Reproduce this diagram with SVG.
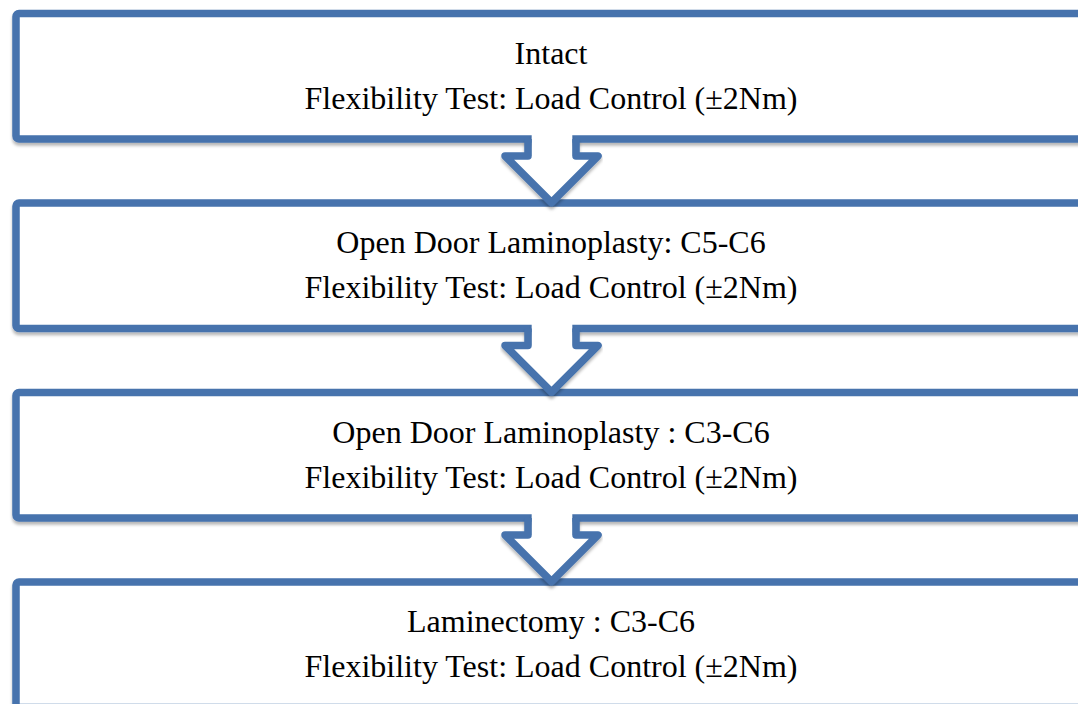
<svg xmlns="http://www.w3.org/2000/svg" width="1078" height="704" viewBox="0 0 1078 704">
<defs>
<filter id="sh" x="-5%" y="-10%" width="110%" height="130%">
<feDropShadow dx="0" dy="3" stdDeviation="1.8" flood-color="#000" flood-opacity="0.28"/>
</filter>
</defs>
<style>
.box{fill:#ffffff;stroke:#4673AD;stroke-width:7.5;stroke-linejoin:round}
.af{fill:#ffffff;stroke:none}
.as{fill:none;stroke:#4673AD;stroke-width:7.5;stroke-linejoin:round;stroke-linecap:butt}
.t{font-family:"Liberation Serif","Times New Roman",serif;font-size:32px;fill:#000;text-anchor:middle}
</style>
<rect width="1078" height="704" fill="#ffffff"/>
<g id="node1">
<rect class="box" x="16" y="13.5" width="1100" height="125.5" rx="3" filter="url(#sh)"/>
<text class="t" x="551" y="63.5">Intact</text>
<text class="t" x="551" y="108.5">Flexibility Test: Load Control (±2Nm)</text>
</g>
<g id="node2">
<rect class="box" x="16" y="203" width="1100" height="125.5" rx="3" filter="url(#sh)"/>
<text class="t" x="551" y="253">Open Door Laminoplasty: C5-C6</text>
<text class="t" x="551" y="298">Flexibility Test: Load Control (±2Nm)</text>
</g>
<g id="node3">
<rect class="box" x="16" y="392.5" width="1100" height="125.5" rx="3" filter="url(#sh)"/>
<text class="t" x="551" y="442.5">Open Door Laminoplasty : C3-C6</text>
<text class="t" x="551" y="487.5">Flexibility Test: Load Control (±2Nm)</text>
</g>
<g id="node4">
<rect class="box" x="16" y="582" width="1100" height="125.5" rx="3" filter="url(#sh)"/>
<text class="t" x="551" y="632">Laminectomy : C3-C6</text>
<text class="t" x="551" y="677">Flexibility Test: Load Control (±2Nm)</text>
</g>
<g id="connectors">
<g filter="url(#sh)">
<path class="af" d="M531.7,134 L572.3,134 L572.3,156 L598,156 L551.5,202.5 L505,156 L531.7,156 Z"/>
<path class="as" d="M528,139 L528,156 L505,156 L551.5,202.5 L598,156 L576,156 L576,139"/>
</g>
<g filter="url(#sh)">
<path class="af" d="M531.7,323.5 L572.3,323.5 L572.3,345.5 L598,345.5 L551.5,392 L505,345.5 L531.7,345.5 Z"/>
<path class="as" d="M528,328.5 L528,345.5 L505,345.5 L551.5,392 L598,345.5 L576,345.5 L576,328.5"/>
</g>
<g filter="url(#sh)">
<path class="af" d="M531.7,513 L572.3,513 L572.3,535 L598,535 L551.5,581.5 L505,535 L531.7,535 Z"/>
<path class="as" d="M528,518 L528,535 L505,535 L551.5,581.5 L598,535 L576,535 L576,518"/>
</g>
</g>
</svg>
